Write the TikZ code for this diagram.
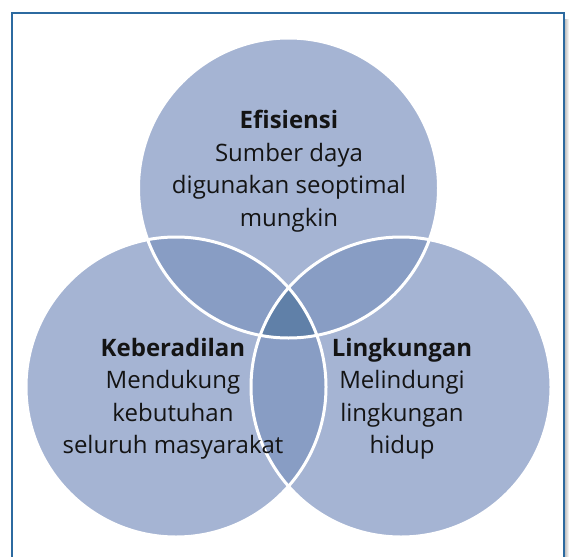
\documentclass[tikz,border=0pt]{standalone}
\usepackage{fontspec}
\setmainfont{Open Sans}
\definecolor{cLight}{RGB}{165,180,211}
\definecolor{cMid}{RGB}{136,157,196}
\definecolor{cDark}{RGB}{96,128,168}
\definecolor{cFrame}{RGB}{44,106,160}
\tikzset{
  lbl/.style={align=center, font=\fontsize{24}{32.5}\selectfont, text=black!92, inner sep=0pt},
  ring/.style={draw=white, line width=3pt}
}
\begin{document}
\begin{tikzpicture}[x=1pt,y=-1pt]
\useasboundingbox (0,0) rectangle (569,556);
% shadow on right
\shade[left color=black!30, right color=white] (564,20) rectangle (569,556);
\draw[cFrame, line width=1.3pt] (12,560) -- (12,13) -- (564,13) -- (564,560);
\coordinate (T) at (288.5,188);
\coordinate (L) at (176,387);
\coordinate (R) at (401,387);
\def\rr{150}
\fill[cLight] (T) circle (\rr);
\fill[cLight] (L) circle (\rr);
\fill[cLight] (R) circle (\rr);
\begin{scope}
  \clip (T) circle (\rr);
  \fill[cMid] (L) circle (\rr);
  \fill[cMid] (R) circle (\rr);
\end{scope}
\begin{scope}
  \clip (L) circle (\rr);
  \fill[cMid] (R) circle (\rr);
\end{scope}
\begin{scope}
  \clip (T) circle (\rr);
  \clip (L) circle (\rr);
  \fill[cDark] (R) circle (\rr);
\end{scope}
\draw[ring] (T) circle (\rr);
\draw[ring] (L) circle (\rr);
\draw[ring] (R) circle (\rr);
\node[lbl] (eff) at (289,171) {\textbf{Efisiensi}\\Sumber daya\\digunakan seoptimal\\mungkin};
\node[lbl] (keb) at (173,399) {\textbf{Keberadilan}\\Mendukung\\kebutuhan\\seluruh masyarakat};
\node[lbl] (lin) at (402,399) {\textbf{Lingkungan}\\Melindungi\\lingkungan\\hidup};
\end{tikzpicture}
\end{document}
